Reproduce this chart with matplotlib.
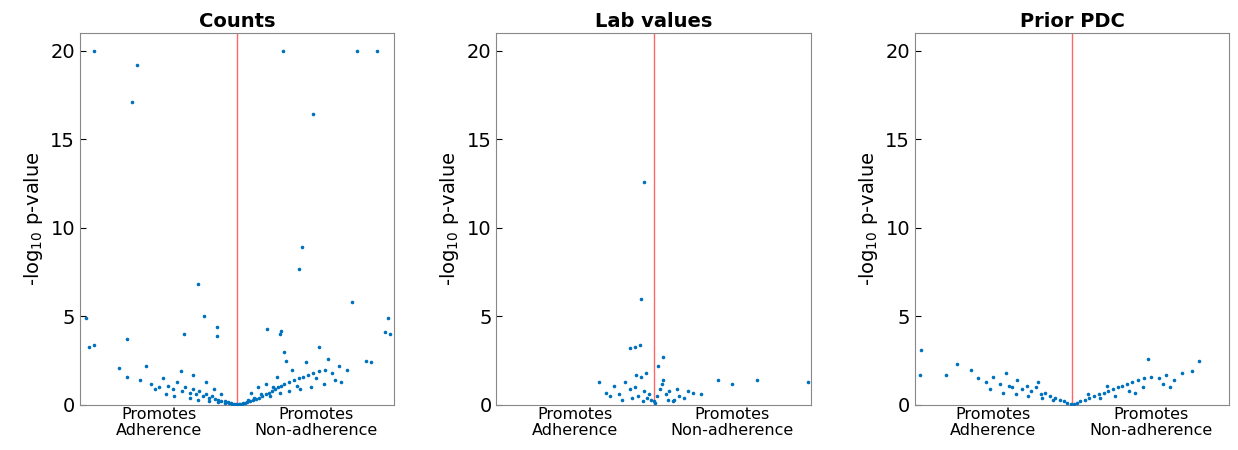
import matplotlib.pyplot as plt

titles = ["Counts", "Lab values", "Prior PDC"]

# effect (x, -1..1) and -log10 p (y)
counts_x = [-0.91, -0.64, -0.67, 0.29, 0.76, 0.89, 0.48, 0.41, 0.39, -0.25, 0.73, -0.96, -0.21, -0.34,
            -0.13, -0.13, -0.94, -0.91, -0.70, 0.96, 0.94, 0.97, 0.82, 0.85, 0.28, 0.27, 0.19, 0.30, 0.52,
            -0.75, -0.70, -0.62, -0.58, -0.55, -0.50, -0.47, -0.44, -0.41, -0.38, -0.35, -0.33, -0.30,
            -0.28, -0.26, -0.24, -0.22, -0.20, -0.18, -0.16, -0.14, -0.12, -0.10, -0.08, -0.06, -0.05,
            -0.04, -0.03, -0.02, -0.01, 0.0, 0.01, 0.02, 0.03, 0.04, 0.05, 0.06, 0.08, 0.10, 0.12,
            0.14, 0.16, 0.18, 0.20, 0.22, 0.24, 0.26, 0.28, 0.30, 0.33, 0.36, 0.39, 0.42, 0.45, 0.48,
            0.52, 0.56, 0.60, 0.65, 0.70, -0.45, -0.40, -0.30, -0.25, -0.18, -0.12, -0.08, 0.07, 0.11,
            0.15, 0.21, 0.27, 0.33, 0.40, 0.47, 0.55, 0.62, -0.36, -0.20, -0.15, 0.13, 0.18, 0.25,
            0.35, 0.44, 0.58, -0.52, -0.28, -0.10, 0.09, 0.23, 0.31, 0.38, 0.50, 0.66]
counts_y = [20, 19.2, 17.1, 20, 20, 20, 16.4, 8.9, 7.7, 6.8, 5.8, 4.9, 5.0, 4.0,
            4.4, 3.9, 3.3, 3.4, 3.7, 4.9, 4.1, 4.0, 2.5, 2.4, 4.2, 4.0, 4.3, 3.0, 3.3,
            2.1, 1.6, 1.4, 2.2, 1.2, 1.0, 1.5, 1.1, 0.9, 1.3, 0.8, 1.0, 0.7,
            0.9, 0.6, 0.8, 0.5, 0.6, 0.4, 0.5, 0.35, 0.3, 0.25, 0.2, 0.15, 0.1,
            0.1, 0.08, 0.05, 0.03, 0.02, 0.03, 0.05, 0.08, 0.1, 0.12, 0.15, 0.2, 0.3, 0.35,
            0.4, 0.5, 0.6, 0.7, 0.8, 0.9, 1.0, 1.1, 1.2, 1.3, 1.4, 1.5, 1.6, 1.7, 1.8,
            1.9, 2.0, 1.8, 2.2, 2.0, 0.6, 0.5, 0.4, 0.3, 0.25, 0.15, 0.1, 0.3, 0.4,
            0.6, 0.5, 0.7, 0.8, 0.9, 1.0, 1.2, 1.4, 1.9, 1.3, 0.9, 1.0, 1.2, 1.6,
            2.0, 2.4, 2.6, 0.9, 1.7, 0.6, 0.7, 1.0, 2.5, 1.1, 1.5, 1.3]

lab_x = [-0.06, -0.08, -0.12, -0.09, -0.15, 0.06, 0.03, -0.35, 0.98, 0.66, 0.50, 0.41, 0.22,
         -0.30, -0.25, -0.22, -0.18, -0.15, -0.12, -0.10, -0.08, -0.06, -0.04, -0.02, 0.0,
         0.02, 0.04, 0.06, 0.08, 0.10, 0.13, 0.16, 0.19, 0.25, 0.30, -0.20, -0.14, -0.05,
         0.05, 0.12, -0.28, -0.03, 0.01, 0.09, 0.15, -0.11, -0.07]
lab_y = [12.6, 6.0, 3.3, 3.4, 3.2, 2.7, 2.2, 1.3, 1.3, 1.4, 1.2, 1.4, 0.8,
         0.7, 1.1, 0.6, 1.3, 0.9, 1.0, 0.5, 1.6, 0.8, 0.4, 0.3, 0.2,
         0.5, 0.9, 1.4, 0.6, 0.8, 0.3, 0.5, 0.4, 0.7, 0.6, 0.3, 0.4, 1.8,
         1.2, 0.2, 0.5, 0.6, 0.1, 0.3, 0.9, 1.7, 0.2]

pdc_x = [-0.96, -0.97, -0.80, -0.73, -0.64, 0.81, 0.76, 0.48, -0.60, -0.55, -0.50, -0.46,
         -0.42, -0.38, -0.35, -0.32, -0.29, -0.26, -0.23, -0.20, -0.17, -0.14, -0.11, -0.08,
         -0.05, -0.03, -0.01, 0.01, 0.03, 0.05, 0.08, 0.11, 0.14, 0.17, 0.20, 0.23, 0.26,
         0.29, 0.32, 0.35, 0.38, 0.42, 0.46, 0.50, 0.55, 0.60, 0.65, 0.70, -0.52, -0.44,
         -0.36, -0.28, -0.19, -0.12, 0.10, 0.18, 0.27, 0.36, 0.45, 0.58, -0.40, -0.22,
         0.22, 0.40, 0.62]
pdc_y = [3.1, 1.7, 1.7, 2.3, 2.0, 2.5, 1.9, 2.6, 1.5, 1.3, 1.6, 1.2,
         1.8, 1.0, 1.4, 0.9, 1.1, 0.8, 1.0, 0.6, 0.7, 0.5, 0.4, 0.3,
         0.2, 0.1, 0.05, 0.05, 0.1, 0.2, 0.3, 0.4, 0.5, 0.6, 0.7, 0.8, 0.9,
         1.0, 1.1, 1.2, 1.3, 1.4, 1.5, 1.6, 1.5, 1.7, 1.4, 1.8, 0.9, 0.7,
         0.6, 0.5, 0.4, 0.3, 0.6, 0.4, 0.5, 0.8, 1.0, 1.2, 1.1, 1.3,
         1.1, 0.7, 1.0]

data = [(counts_x, counts_y), (lab_x, lab_y), (pdc_x, pdc_y)]
lefts = [0.0646, 0.401, 0.739]

fig = plt.figure(figsize=(12.38, 4.5), dpi=100)
for left, title, (xs, ys) in zip(lefts, titles, data):
    ax = fig.add_axes([left, 0.10, 0.254, 0.827])
    ax.scatter(xs, ys, s=2.5, color='#0072BD', zorder=3)
    ax.axvline(0, color='#FF6666', lw=1)
    ax.set_xlim(-1.0, 1.0)
    ax.set_ylim(0, 21)
    ax.set_yticks([0, 5, 10, 15, 20])
    ax.set_xticks([])
    ax.tick_params(axis='y', labelsize=14, direction='in', length=4)
    ax.set_title(title, fontsize=14, fontweight='bold', pad=4)
    ax.set_ylabel('-log$_{10}$ p-value', fontsize=14)
    ax.text(-0.5, -0.1, 'Promotes\nAdherence', ha='center', va='top', fontsize=11.5,
            linespacing=1.1)
    ax.text(0.5, -0.1, 'Promotes\nNon-adherence', ha='center', va='top', fontsize=11.5,
            linespacing=1.1)
    for sp in ax.spines.values():
        sp.set_color('#888888')

fig.savefig('out.png', dpi=100)
